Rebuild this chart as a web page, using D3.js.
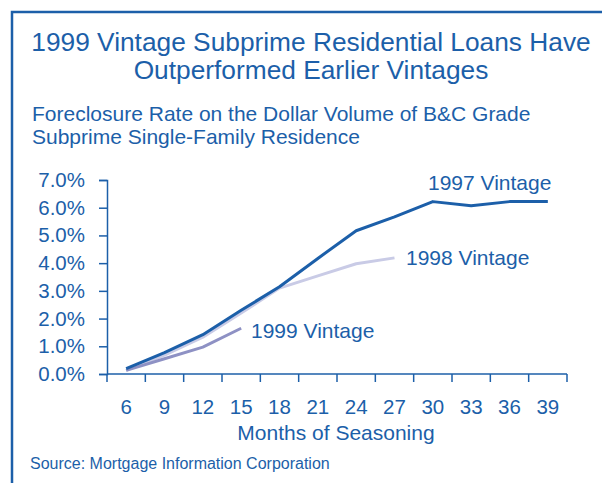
<!DOCTYPE html>
<html>
<head>
<meta charset="utf-8">
<script src="https://cdn.jsdelivr.net/npm/d3@7"></script>
<style>
  body { margin: 0; background: #fff; }
  svg { display: block; font-family: "Liberation Sans", Arial, sans-serif; }
</style>
</head>
<body>
<div id="chart"></div>
<script>
// ---- data ----
const months = [6, 9, 12, 15, 18, 21, 24, 27, 30, 33, 36, 39];
const v1997 = [0.19, 0.77, 1.42, 2.3, 3.15, 4.17, 5.17, 5.67, 6.22, 6.07, 6.22, 6.22];
const v1998 = [0.13, 0.68, 1.33, 2.2, 3.1, 3.54, 3.98, 4.19];
const v1999 = [0.13, 0.55, 0.97, 1.65];
const yTicks = [0, 1, 2, 3, 4, 5, 6, 7];

const blue = "#1c5fa9";

const W = 602, H = 483;
const svg = d3.select("#chart").append("svg")
    .attr("width", W).attr("height", H);

// frame (runs off right/bottom edges)
svg.append("rect")
    .attr("x", 12).attr("y", 12)
    .attr("width", W + 20).attr("height", H + 20)
    .attr("fill", "none")
    .attr("stroke", blue)
    .attr("stroke-width", 2.5);

// titles
const title = svg.append("text")
    .attr("text-anchor", "middle")
    .attr("fill", blue)
    .style("font-size", "26.3px");
title.append("tspan").attr("x", 311).attr("y", 51).text("1999 Vintage Subprime Residential Loans Have");
title.append("tspan").attr("x", 311).attr("y", 79).text("Outperformed Earlier Vintages");

const sub = svg.append("text")
    .attr("fill", blue)
    .style("font-size", "21px");
sub.append("tspan").attr("x", 32).attr("y", 121).text("Foreclosure Rate on the Dollar Volume of B&C Grade");
sub.append("tspan").attr("x", 32).attr("y", 144).text("Subprime Single-Family Residence");

// scales
const x = d3.scaleBand().domain(months).range([107, 567]);
const y = d3.scaleLinear().domain([0, 7]).range([374, 180]);

// axes
const xAxis = svg.append("g")
    .attr("transform", "translate(0,374)")
    .attr("font-family", null)
    .call(d3.axisBottom(x).tickSize(0).tickPadding(25));
xAxis.select(".domain").remove();
xAxis.selectAll("text").attr("fill", blue).style("font-size", "20.5px");
// ticks between categories
const edges = months.map(m => x(m)).concat([x.range()[1]]);
svg.append("g").selectAll("line")
    .data(edges).join("line")
    .attr("x1", d => d).attr("x2", d => d)
    .attr("y1", 374).attr("y2", 382)
    .attr("stroke", blue).attr("stroke-width", 1.5);
svg.append("line")
    .attr("x1", 107).attr("x2", 567).attr("y1", 374).attr("y2", 374)
    .attr("stroke", blue).attr("stroke-width", 1.5);

const yAxis = svg.append("g")
    .attr("transform", "translate(107,0)")
    .call(d3.axisLeft(y).tickValues(yTicks).tickSize(8).tickPadding(14)
        .tickFormat(d => d.toFixed(1) + "%"));
yAxis.attr("font-family", null);
yAxis.select(".domain").attr("stroke", blue).attr("stroke-width", 1.5);
yAxis.selectAll(".tick line").attr("stroke", blue).attr("stroke-width", 1.5);
yAxis.selectAll("text").attr("fill", blue).style("font-size", "20.5px");

svg.append("text")
    .attr("x", 336).attr("y", 440)
    .attr("text-anchor", "middle")
    .attr("fill", blue)
    .style("font-size", "21px")
    .text("Months of Seasoning");

// lines
const line = d3.line()
    .x((d, i) => x(months[i]) + x.bandwidth() / 2)
    .y(d => y(d));

const series = [
    { name: "1998 Vintage", values: v1998, color: "#c9cbe6", lx: 406, ly: 265 },
    { name: "1999 Vintage", values: v1999, color: "#8e91c4", lx: 251, ly: 338 },
    { name: "1997 Vintage", values: v1997, color: "#1c5fa9", lx: 428, ly: 190 }
];

svg.append("g").selectAll("path")
    .data(series).join("path")
    .attr("d", d => line(d.values))
    .attr("fill", "none")
    .attr("stroke", d => d.color)
    .attr("stroke-width", 3)
    .attr("stroke-linejoin", "round");

svg.append("g").selectAll("text")
    .data(series).join("text")
    .attr("x", d => d.lx).attr("y", d => d.ly)
    .attr("fill", blue)
    .style("font-size", "21px")
    .text(d => d.name);

svg.append("text")
    .attr("x", 30).attr("y", 469)
    .attr("fill", blue)
    .style("font-size", "16px")
    .text("Source: Mortgage Information Corporation");
</script>
</body>
</html>
